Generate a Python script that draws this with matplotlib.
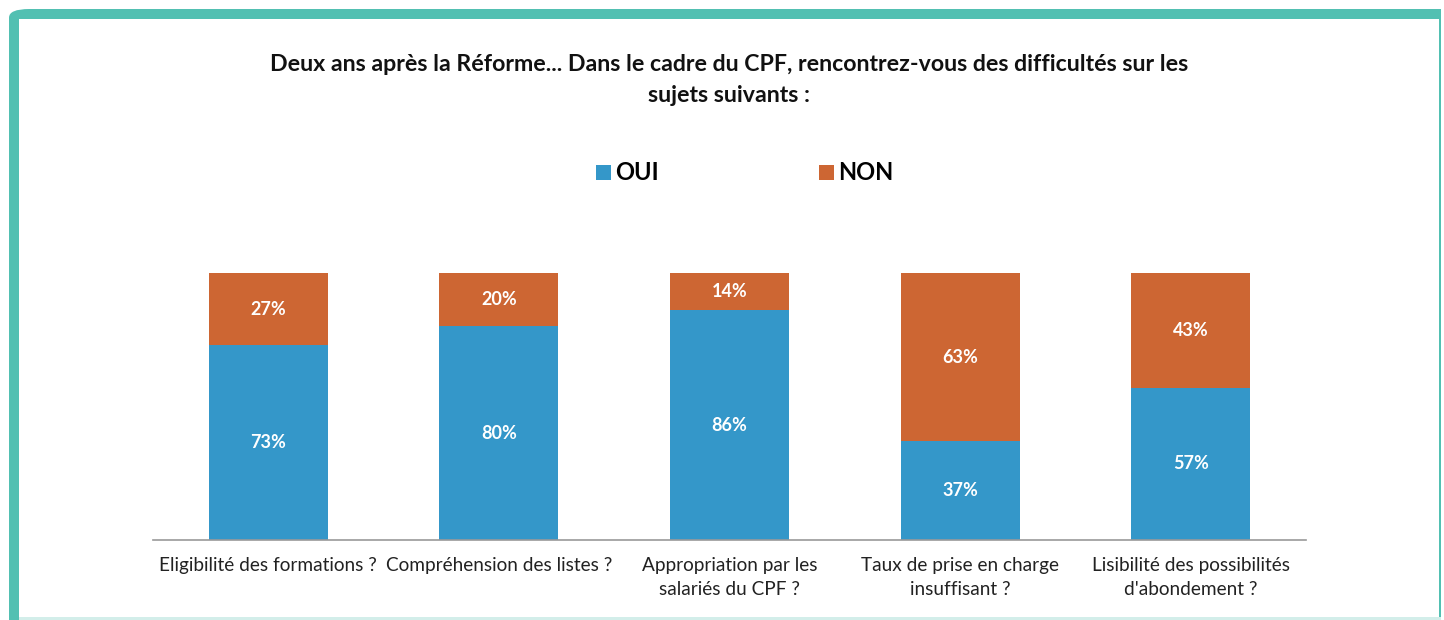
import matplotlib.pyplot as plt
from matplotlib.patches import FancyBboxPatch, Rectangle

categories = ['Eligibilité des formations ?', 'Compréhension des listes ?',
              'Appropriation par les\nsalariés du CPF ?', 'Taux de prise en charge\ninsuffisant ?',
              'Lisibilité des possibilités\nd\'abondement ?']
oui = [73, 80, 86, 37, 57]
non = [27, 20, 14, 63, 43]

bleu = '#3497c9'
orange = '#cd6633'
teal = '#52c0b2'

plt.rcParams['font.family'] = ['Lato', 'DejaVu Sans']

fig = plt.figure(figsize=(14.44, 6.2), dpi=100)
W, H = 1444, 620

# cadre turquoise (épais à gauche et en haut, fin à droite et en bas)
fig.patches.append(FancyBboxPatch((9 / W, -0.1), (1441 - 9) / W, (611 / H) + 0.1,
                                  boxstyle='round,pad=0,rounding_size=0.014',
                                  transform=fig.transFigure, facecolor=teal,
                                  edgecolor='none', zorder=-3))
fig.patches.append(Rectangle((1400 / W, 601 / H), 41 / W, 10 / H, transform=fig.transFigure,
                             facecolor=teal, edgecolor='none', zorder=-2.5))
fig.patches.append(Rectangle((19 / W, 3 / H), (1439 - 19) / W, (601 - 3) / H,
                             transform=fig.transFigure, facecolor='white',
                             edgecolor='none', zorder=-2))
fig.patches.append(Rectangle((19 / W, 0), (1441 - 19) / W, 3 / H, transform=fig.transFigure,
                             facecolor='#d3eeea', edgecolor='none', zorder=-1))

ax = fig.add_axes([153 / W, 80 / H, 1153 / W, 267 / H])
ax.patch.set_alpha(0)
x = range(len(categories))
ax.bar(x, oui, width=0.516, color=bleu, label='OUI')
ax.bar(x, non, width=0.516, bottom=oui, color=orange, label='NON')

for i in x:
    ax.text(i, oui[i] / 2, f'{oui[i]}%', ha='center', va='center',
            color='white', fontsize=13, fontweight='bold')
    ax.text(i, oui[i] + non[i] / 2, f'{non[i]}%', ha='center', va='center',
            color='white', fontsize=13, fontweight='bold')

ax.set_xlim(-0.5, 4.5)
ax.set_ylim(0, 100)
ax.set_xticks(list(x))
ax.set_xticklabels(categories, fontsize=13.7, color='#222222', linespacing=1.5)
ax.tick_params(axis='x', length=0, pad=12)
ax.set_yticks([])
for s in ['top', 'right', 'left']:
    ax.spines[s].set_visible(False)
ax.spines['bottom'].set_color('#999999')
ax.spines['bottom'].set_linewidth(1.2)

fig.text(729 / W, 1 - 80 / H, 'Deux ans après la Réforme... Dans le cadre du CPF, rencontrez-vous des difficultés sur les\nsujets suivants :',
         ha='center', va='center', fontsize=16.7, fontweight='bold', color='#111111', linespacing=1.55)

leg = fig.legend(loc='center', bbox_to_anchor=(745 / W, 1 - 173 / H), ncol=2, frameon=False,
                 handlelength=0.6, handleheight=0.6, handletextpad=0.2,
                 columnspacing=6.8, prop={'weight': 'bold', 'size': 17})

fig.savefig('out.png', dpi=100, facecolor='white')
